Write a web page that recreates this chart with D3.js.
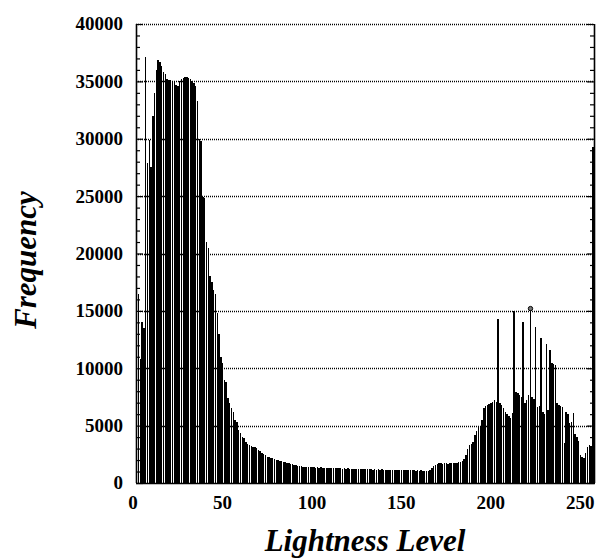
<!doctype html>
<html lang="en">
<head>
<meta charset="utf-8">
<script src="https://cdn.jsdelivr.net/npm/d3@7"></script>
<style>
  body { margin: 0; background: #fff; }
  text { font-family: "Liberation Serif", "Times New Roman", serif; font-weight: bold; }
</style>
</head>
<body>
<svg id="chart" width="601" height="560"></svg>
<script>
// lightness histogram, one count per level 0..255
var freq = [
  16000, 16500, 10800, 14000, 13500, 37100, 27900, 29900, 27500, 32000,
  34000, 36000, 36900, 36700, 36300, 35800, 35600, 35200, 35100, 35100,
  35000, 35000, 34700, 34600, 35000, 35200, 35300, 35400, 35400, 35300,
  35200, 35000, 34900, 34600, 33300, 30000, 29800, 24900, 24800, 21000,
  20500, 18000, 17500, 16800, 16500, 14800, 13000, 11000, 10500, 9000,
  8800, 7400, 7000, 6500, 6200, 5500, 5300, 4600, 4400, 4000,
  3900, 3600, 3400, 3300, 3200, 3150, 3100, 3050, 2900, 2800,
  2600, 2500, 2400, 2300, 2250, 2200, 2150, 2100, 2000, 2000,
  1950, 1900, 1850, 1800, 1750, 1720, 1680, 1650, 1600, 1560,
  1520, 1480, 1450, 1420, 1400, 1420, 1380, 1400, 1370, 1390,
  1350, 1370, 1340, 1360, 1330, 1350, 1320, 1300, 1320, 1290,
  1310, 1280, 1300, 1270, 1300, 1260, 1290, 1250, 1280, 1240,
  1260, 1230, 1250, 1210, 1240, 1200, 1230, 1190, 1220, 1200,
  1180, 1210, 1170, 1200, 1160, 1190, 1150, 1180, 1160, 1140,
  1170, 1130, 1160, 1120, 1150, 1110, 1140, 1120, 1130, 1100,
  1140, 1110, 1130, 1090, 1120, 1100, 1080, 1110, 1070, 1100,
  1050, 1080, 1040, 1070, 1100, 1300, 1450, 1550, 1650, 1700,
  1700, 1650, 1700, 1700, 1650, 1700, 1700, 1750, 1700, 1750,
  1800, 1850, 1900, 2100, 2400, 3000, 3300, 3400, 3600, 4200,
  4500, 5000, 5000, 5500, 6500, 6700, 6800, 6900, 7000, 7100,
  7200, 7100, 14300, 7000, 6800, 6500, 6200, 6000, 5800, 5700,
  6100, 15000, 7900, 7800, 7700, 7500, 14000, 7000, 7200, 7700,
  15200, 7500, 7300, 13600, 6600, 6700, 12600, 6200, 6000, 12100,
  6400, 11600, 10500, 10400, 10300, 7000, 6800, 6700, 6600, 3500,
  6200, 6000, 5200, 5300, 6100, 4300, 4000, 3700, 2400, 2300,
  2200, 2600, 3100, 3300, 3200, 29300
];
var xTicks = [0, 50, 100, 150, 200, 250];
var yTicks = [0, 5000, 10000, 15000, 20000, 25000, 30000, 35000, 40000];
var markedLevel = 220; // little circle on top of this spike

var plotLeft = 136, plotRight = 594, plotTop = 24, plotBottom = 483;

var svg = d3.select('#chart');

var x = d3.scaleLinear().domain([0, 256]).range([plotLeft, plotRight]);
var y = d3.scaleLinear().domain([0, 40000]).range([plotBottom, plotTop]);

// bars
svg.append('g')
  .selectAll('rect')
  .data(freq)
  .enter()
  .append('rect')
  .attr('x', function(d, i) { return x(i); })
  .attr('width', function(d, i) { return x(i + 1) - x(i) - 0.35; })
  .attr('y', function(d) { return y(d); })
  .attr('height', function(d) { return y(0) - y(d); })
  .attr('fill', 'black')
  .attr('shape-rendering', 'crispEdges');

svg.append('circle')
  .attr('cx', x(markedLevel + 0.5))
  .attr('cy', y(freq[markedLevel]))
  .attr('r', 2.2)
  .attr('fill', '#777')
  .attr('stroke', 'black')
  .attr('stroke-width', 1);

// dotted grid lines
svg.append('g')
  .selectAll('line')
  .data(yTicks.slice(1))
  .enter()
  .append('line')
  .attr('x1', plotLeft)
  .attr('x2', plotRight)
  .attr('y1', function(d) { return Math.round(y(d)) + 0.5; })
  .attr('y2', function(d) { return Math.round(y(d)) + 0.5; })
  .style('stroke', 'black')
  .style('stroke-width', 1.3)
  .style('stroke-dasharray', '1,1');

// frame: left, right, bottom solid, small inward ticks every 1000
var yl = d3.axisRight(y).ticks(40).tickSize(4).tickFormat('');
var yr = d3.axisLeft(y).ticks(40).tickSize(4).tickFormat('');
var gl = svg.append('g').attr('transform', 'translate(' + plotLeft + ',0)').call(yl);
var gr = svg.append('g').attr('transform', 'translate(' + plotRight + ',0)').call(yr);
[gl, gr].forEach(function(g) {
  g.select('.domain')
    .attr('stroke-width', 1.6)
    .attr('d', 'M0.5,' + plotTop + 'V' + plotBottom);
  g.selectAll('.tick line')
    .attr('stroke-width', 1.2)
    .filter(function(d) { return d % 5000 === 0; })
    .attr('x2', g === gl ? 7 : -7);
});

svg.append('line')
  .attr('x1', plotLeft).attr('x2', plotRight + 1)
  .attr('y1', plotBottom + 0.5).attr('y2', plotBottom + 0.5)
  .style('stroke', 'black').style('stroke-width', 1.6);

// tick labels
svg.append('g')
  .selectAll('text')
  .data(yTicks)
  .enter()
  .append('text')
  .attr('x', 123)
  .attr('y', function(d) { return y(d); })
  .attr('dy', '0.34em')
  .attr('text-anchor', 'end')
  .attr('font-size', 19)
  .text(function(d) { return d; });

svg.append('g')
  .selectAll('text')
  .data(xTicks)
  .enter()
  .append('text')
  .attr('x', function(d) { return x(d) - 3; })
  .attr('y', 509)
  .attr('text-anchor', 'middle')
  .attr('font-size', 19)
  .text(function(d) { return d; });

// axis titles
svg.append('text')
  .attr('x', (plotLeft + plotRight) / 2)
  .attr('y', 551)
  .attr('text-anchor', 'middle')
  .attr('font-size', 31)
  .attr('font-style', 'italic')
  .text('Lightness Level');

svg.append('text')
  .attr('transform', 'translate(36,260) rotate(-90)')
  .attr('text-anchor', 'middle')
  .attr('font-size', 31)
  .attr('font-style', 'italic')
  .text('Frequency');
</script>
</body>
</html>
